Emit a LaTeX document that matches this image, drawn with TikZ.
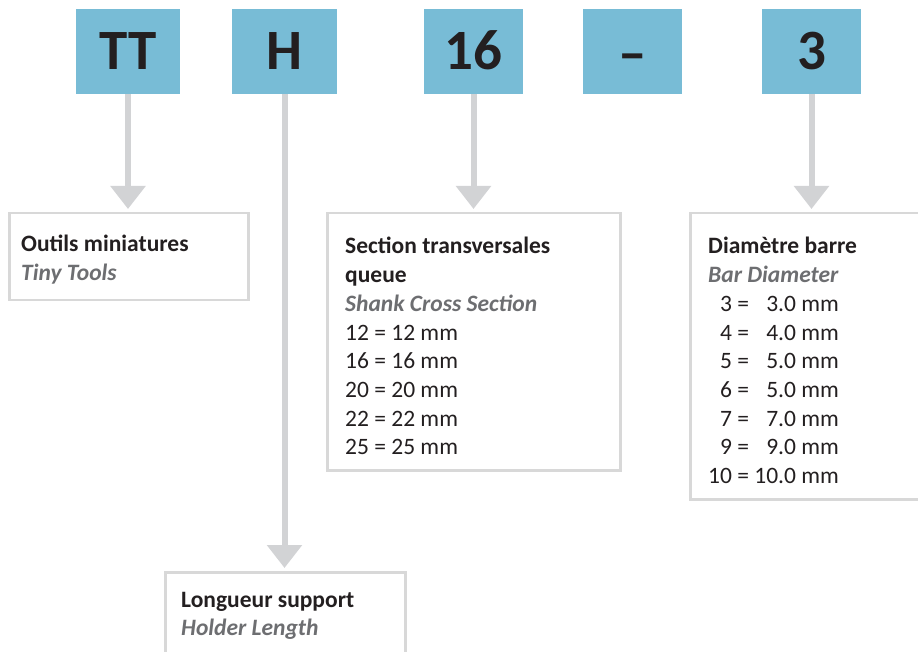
\documentclass[tikz,border=0pt]{standalone}
\usepackage{fontspec}
\setmainfont{Carlito}
\usetikzlibrary{arrows.meta}
\definecolor{codeblue}{RGB}{120,188,214}
\definecolor{ink}{RGB}{35,31,32}
\definecolor{arrowgray}{RGB}{210,211,213}
\definecolor{framegray}{RGB}{216,216,216}
\definecolor{subgray}{RGB}{109,110,113}
\newcommand{\subtitle}[1]{\textcolor{subgray}{\bfseries\itshape #1}}
\begin{document}
\begin{tikzpicture}[x=1pt,y=-1pt,
  codebox/.style={fill=codeblue, minimum width=#1, minimum height=85pt, inner sep=0pt,
    text height=37pt, text depth=0pt, font=\fontsize{57}{60}\selectfont\bfseries, text=ink},
  infobox/.style={draw=framegray, line width=2.5pt, inner sep=0pt, anchor=north west},
  infotext/.style={anchor=base west, inner sep=0pt, text=ink, font=\fontsize{23.5}{28.7}\selectfont},
  link/.style={draw=arrowgray, line width=6pt, -{Triangle[width=34pt,length=23pt]}, shorten >=3pt}
]
\useasboundingbox (0,0) rectangle (918,652);
\clip (0,0) rectangle (918,652);

% code boxes
\node[codebox=104pt] (tt)  at (128,51.5)   {TT};
\node[codebox=105pt] (h)   at (284.5,51.5) {H};
\node[codebox=99pt]  (sixteen) at (473.5,51.5) {16};
\node[codebox=99pt]  (dash) at (632.5,51.5) {\raisebox{-3pt}{–}};
\node[codebox=99pt]  (three) at (811.5,51.5) {3};

% info frames
\node[infobox, minimum width=239pt, minimum height=87pt]  (outils)  at (8,212)   {};
\node[infobox, minimum width=293pt, minimum height=257pt] (section) at (326,212) {};
\node[infobox, minimum width=251pt, minimum height=286pt] (diam)    at (689,212) {};
\node[infobox, minimum width=240pt, minimum height=129pt] (longueur) at (164,571) {};

% texts
\node[infotext] (outilstext) at (21,252) {\begin{tabular}[t]{@{}l@{}}
  \bfseries Outils miniatures\\
  \subtitle{Tiny Tools}
\end{tabular}};

\node[infotext] (sectiontext) at (345,254) {\begin{tabular}[t]{@{}l@{}}
  \bfseries Section transversales\\
  \bfseries queue\\
  \subtitle{Shank Cross Section}\\
  12 = 12 mm\\
  16 = 16 mm\\
  20 = 20 mm\\
  22 = 22 mm\\
  25 = 25 mm
\end{tabular}};

\node[infotext] (diamtext) at (708,254) {\begin{tabular}[t]{@{}r@{ = }r@{ mm}@{}}
  \multicolumn{2}{@{}l@{}}{\makebox[0pt][l]{\bfseries Diamètre barre}}\\
  \multicolumn{2}{@{}l@{}}{\makebox[0pt][l]{\subtitle{Bar Diameter}}}\\
  3 & 3.0\\
  4 & 4.0\\
  5 & 5.0\\
  6 & 5.0\\
  7 & 7.0\\
  9 & 9.0\\
  10 & 10.0
\end{tabular}};

\node[infotext] (longueurtext) at (181,607) {\begin{tabular}[t]{@{}l@{}}
  \bfseries Longueur support\\
  \subtitle{Holder Length}
\end{tabular}};

% connectors
\draw[link] (tt.south) -- (tt.south |- outils.north);
\draw[link] (h.south) -- (h.south |- longueur.north);
\draw[link] (sixteen.south) -- (sixteen.south |- section.north);
\draw[link] (three.south) -- (three.south |- diam.north);
\end{tikzpicture}
\end{document}
